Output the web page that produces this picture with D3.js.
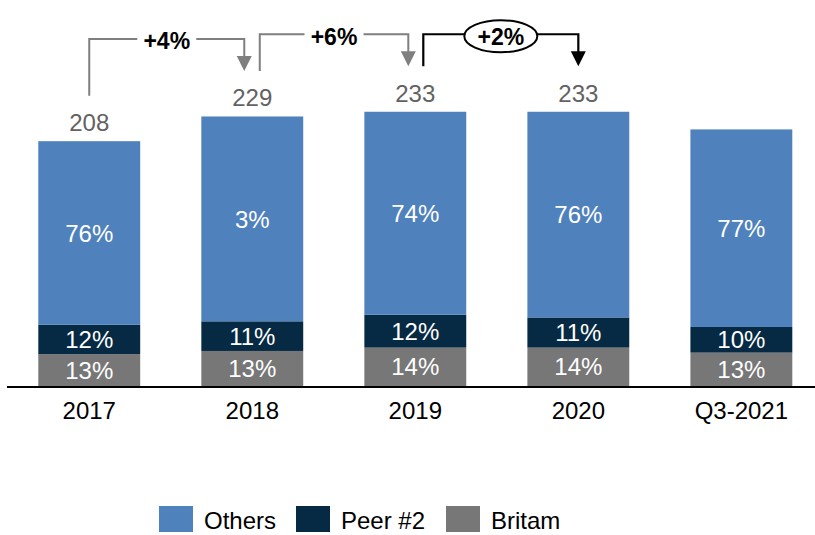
<!DOCTYPE html>
<html>
<head>
<meta charset="utf-8">
<script src="https://cdn.jsdelivr.net/npm/d3@7"></script>
<style>
  html, body { margin: 0; padding: 0; background: #ffffff; }
  svg { display: block; font-family: "Liberation Sans", Arial, Helvetica, sans-serif; }
</style>
</head>
<body>
<svg id="chart" width="815" height="535"></svg>
<script>
// Market size per period and share split
const categories   = ["2017", "2018", "2019", "2020", "Q3-2021"];
const totals       = [208, 229, 233, 233, 218];
const totalLabels  = ["208", "229", "233", "233", ""];
const britamShare  = [13, 13, 14, 14, 13];
const peerShare    = [12, 11, 12, 11, 10];
const othersLabels = ["76%", "3%", "74%", "76%", "77%"];
const seriesNames  = ["Others", "Peer #2", "Britam"];

// Year-on-year growth callouts between consecutive bars
const growthFrom   = [0, 1, 2];
const growthTo     = [1, 2, 3];
const growthText   = ["+4%", "+6%", "+2%"];

const colors = { "Others": "#4f81bd", "Peer #2": "#062a43", "Britam": "#777777" };

const svg = d3.select("#chart");
const W = 815;
const baseY = 386;

const x = d3.scaleBand()
  .domain(categories)
  .range([38.3, 792.3])
  .paddingInner(0.375)
  .paddingOuter(0);

const y = d3.scaleLinear()
  .domain([0, 233])
  .range([baseY, baseY - 233 * 1.177]);

// Stack rows: Britam at the bottom, Peer #2 above it, Others fills up to the total
const rows = categories.map((c, i) => {
  const t = totals[i];
  const b = t * britamShare[i] / 100;
  const p = t * peerShare[i] / 100;
  return {
    cat: c,
    segs: [
      { key: "Britam",  y0: 0,     y1: b,     label: britamShare[i] + "%" },
      { key: "Peer #2", y0: b,     y1: b + p, label: peerShare[i] + "%" },
      { key: "Others",  y0: b + p, y1: t,     label: othersLabels[i] }
    ],
    total: t,
    totalLabel: totalLabels[i]
  };
});

const gBars = svg.append("g");
const barG = gBars.selectAll("g.bar").data(rows).join("g").attr("class", "bar");

barG.selectAll("rect")
  .data(d => d.segs.map(s => Object.assign({ cat: d.cat }, s)))
  .join("rect")
  .attr("x", d => x(d.cat))
  .attr("width", x.bandwidth())
  .attr("y", d => y(d.y1))
  .attr("height", d => y(d.y0) - y(d.y1))
  .attr("fill", d => colors[d.key]);

barG.selectAll("text.seg")
  .data(d => d.segs.map(s => Object.assign({ cat: d.cat }, s)))
  .join("text")
  .attr("class", "seg")
  .attr("x", d => x(d.cat) + x.bandwidth() / 2)
  .attr("y", d => (y(d.y0) + y(d.y1)) / 2)
  .attr("dy", "0.36em")
  .attr("text-anchor", "middle")
  .attr("fill", "#ffffff")
  .attr("font-size", 24)
  .text(d => d.label);

// Total labels above each bar
gBars.selectAll("text.total")
  .data(rows)
  .join("text")
  .attr("class", "total")
  .attr("x", d => x(d.cat) + x.bandwidth() / 2)
  .attr("y", d => y(d.total) - 10)
  .attr("text-anchor", "middle")
  .attr("fill", "#626262")
  .attr("font-size", 24)
  .text(d => d.totalLabel);

// Category axis
const xAxis = d3.axisBottom(x).tickSize(0).tickPadding(0);
const gx = svg.append("g").attr("transform", `translate(0,${baseY + 1})`).call(xAxis);
gx.select(".domain").remove();
gx.selectAll("text")
  .attr("font-family", "Liberation Sans, Arial, sans-serif")
  .attr("font-size", 24)
  .attr("fill", "#000000")
  .attr("dy", null)
  .attr("y", 32);
svg.append("line")
  .attr("x1", 7).attr("x2", W)
  .attr("y1", baseY + 1).attr("y2", baseY + 1)
  .attr("stroke", "#000000").attr("stroke-width", 2);

// Growth callouts: bracket from one bar's label to the next with an arrowhead
const calloutStyle = [
  { color: "#7f7f7f", dx0: 0,   dx1: -8, width: 2,   oval: false },
  { color: "#7f7f7f", dx0: 7.5, dx1: -7, width: 2,   oval: false },
  { color: "#000000", dx0: 8,   dx1: 0,  width: 2.2, oval: true }
];
const gAnn = svg.append("g");
growthText.forEach((txt, k) => {
  const st = calloutStyle[k];
  const i0 = growthFrom[k], i1 = growthTo[k];
  const xa = x(categories[i0]) + x.bandwidth() / 2 + st.dx0;
  const xb = x(categories[i1]) + x.bandwidth() / 2 + st.dx1;
  const ya = y(totals[i0]) - 45.5;
  const yb = y(totals[i1]) - 45.5;
  const yh = Math.min(ya, yb) - 32;
  const xm = (xa + xb) / 2;
  const gap = st.oval ? 36.5 : 29.5;
  const head = 15;

  const path = d3.path();
  path.moveTo(xa, ya); path.lineTo(xa, yh); path.lineTo(xm - gap, yh);
  path.moveTo(xm + gap, yh); path.lineTo(xb, yh); path.lineTo(xb, yb - head + 1);
  gAnn.append("path")
    .attr("d", path.toString())
    .attr("fill", "none")
    .attr("stroke", st.color)
    .attr("stroke-width", st.width);

  gAnn.append("path")
    .attr("d", `M${xb - 7.5},${yb - head} L${xb + 7.5},${yb - head} L${xb},${yb} Z`)
    .attr("fill", st.color);

  if (st.oval) {
    gAnn.append("ellipse")
      .attr("cx", xm).attr("cy", yh + 2)
      .attr("rx", 36.5).attr("ry", 16)
      .attr("fill", "#ffffff")
      .attr("stroke", "#000000")
      .attr("stroke-width", 2);
  }
  gAnn.append("text")
    .attr("x", xm)
    .attr("y", yh + 10.5)
    .attr("text-anchor", "middle")
    .attr("font-weight", "bold")
    .attr("font-size", 23)
    .attr("fill", "#000000")
    .text(txt);
});

// Legend
const legendX = [159, 296, 446];
const gLeg = svg.append("g");
const li = gLeg.selectAll("g").data(seriesNames).join("g")
  .attr("transform", (d, i) => `translate(${legendX[i]},506)`);
li.append("rect").attr("width", 34).attr("height", 26).attr("fill", d => colors[d]);
li.append("text")
  .attr("x", 45).attr("y", 23)
  .attr("font-size", 24)
  .attr("fill", "#000000")
  .text(d => d);
</script>
</body>
</html>
